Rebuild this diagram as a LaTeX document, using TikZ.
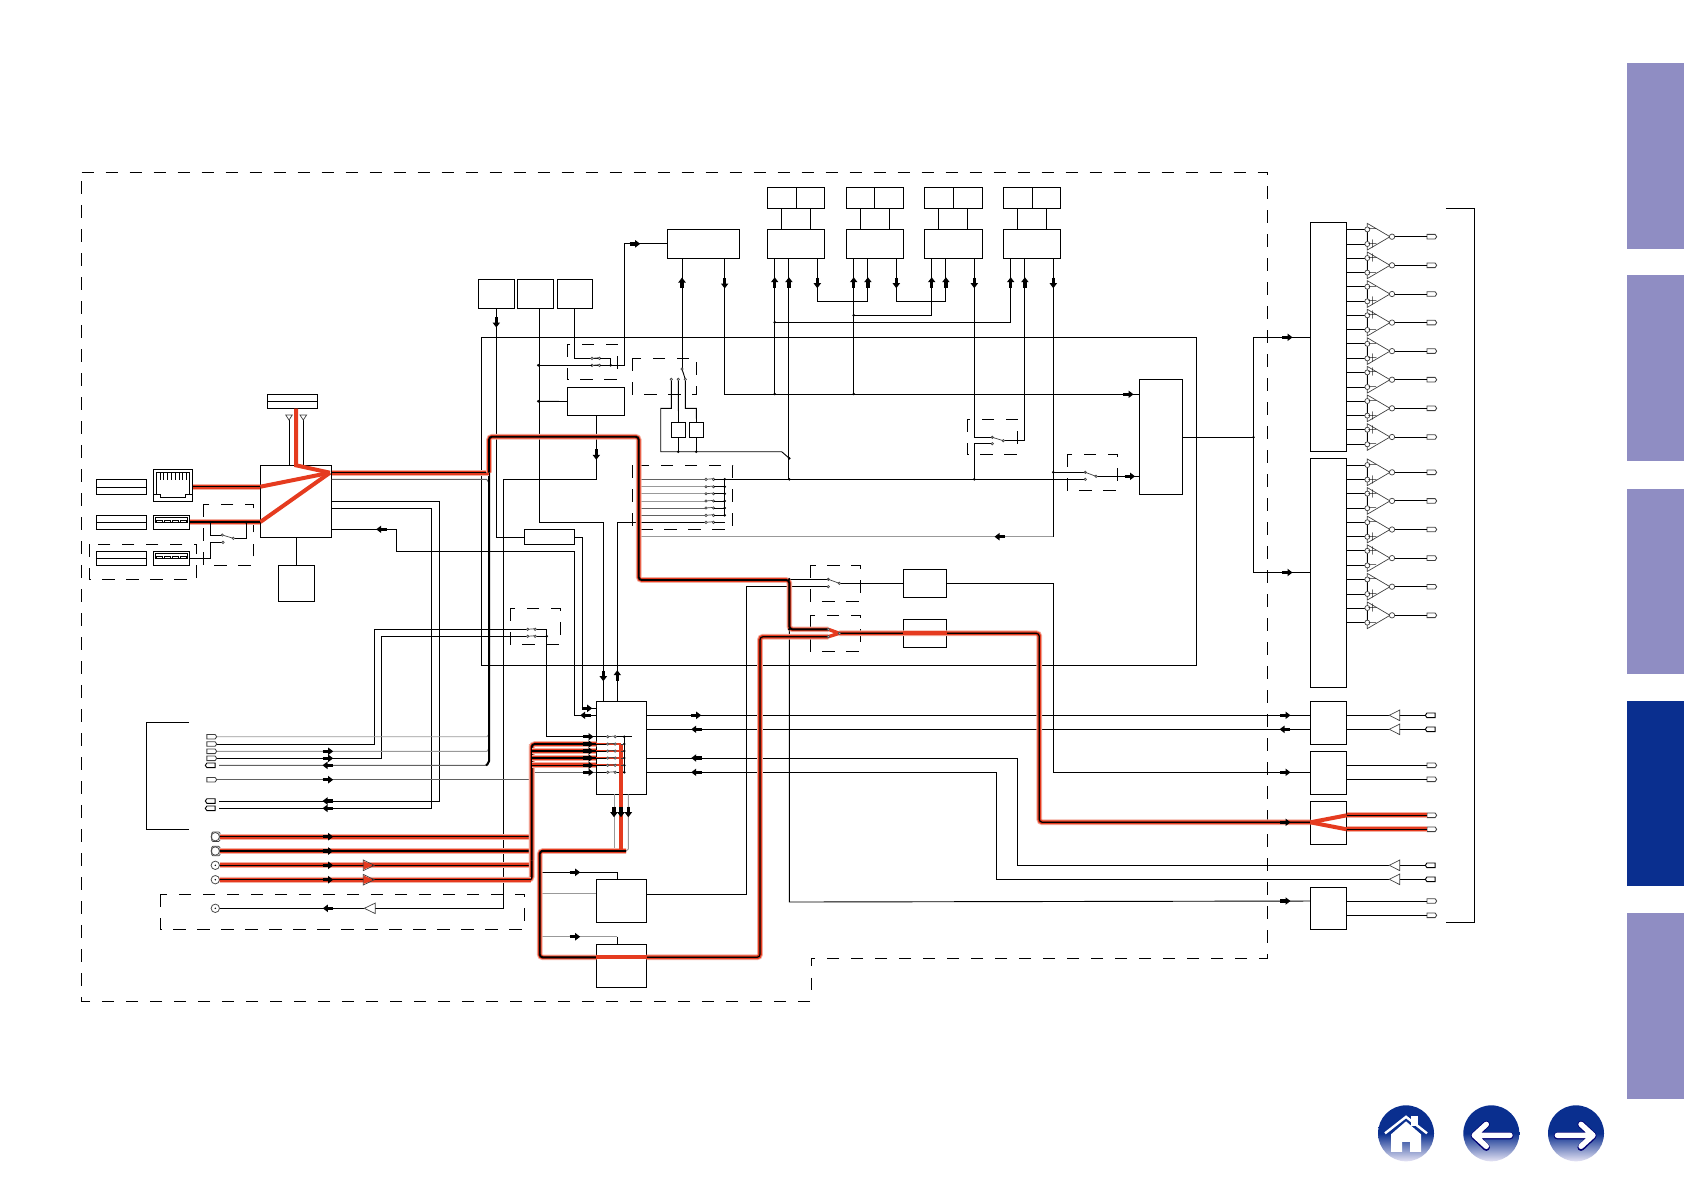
\documentclass[tikz,border=0pt]{standalone}
\usepackage{amsmath,amssymb}
\usetikzlibrary{
  arrows.meta,
  calc,
  fit,
  shapes.symbols
}
\definecolor{hotred}{HTML}{E53B1F}
\definecolor{hothalo}{HTML}{F3AFA2}
\definecolor{tablight}{HTML}{8F8DC3}
\definecolor{navblue}{HTML}{0A2F8F}
\definecolor{navpale}{HTML}{DCDCF0}
\pgfdeclareverticalshading{navfade}{100bp}{color(0bp)=(navpale); color(26bp)=(navpale); color(50bp)=(navblue); color(100bp)=(navblue)}
\tikzset{
  blk/.style={draw,inner sep=0pt,outer sep=0pt,line width=.46pt},
  wire/.style={line width=.46pt},
  softwire/.style={line width=.46pt,color=black!62},
  palewire/.style={line width=.46pt,color=black!40},
  dashbox/.style={line width=.46pt,dash pattern=on 6.3pt off 5.7pt},
  hotline/.style={line width=.6pt,rounded corners=1.5pt,preaction={draw,hotred,line width=1.9pt,preaction={draw,hothalo,line width=2.9pt}}},
  hotbus/.style={line width=.95pt,rounded corners=1.5pt,preaction={draw,hotred,line width=1.8pt,preaction={draw,hothalo,line width=2.8pt}}},
  hotfill/.style={line width=2pt,color=hotred},
  blackbus/.style={line width=1pt,rounded corners=1pt},
  flowtip/.style={line width=1.75pt,-{Triangle[length=2.5pt,width=3.6pt]}},
  gate/.style={line width=.35pt,color=black!75},
  ring/.style={line width=.35pt,fill=white},
  portr/.style={draw=black!75,line width=.42pt,inner sep=0pt,outer sep=0pt,signal,signal to=east,signal pointer angle=110,minimum width=4.9pt,minimum height=2.3pt},
  portl/.style={draw=black,line width=.45pt,inner sep=0pt,outer sep=0pt,signal,signal to=west,signal pointer angle=110,minimum width=4.9pt,minimum height=2.3pt},
  jack/.style={draw=black!70,circle,line width=.4pt,inner sep=0pt,outer sep=0pt,minimum size=4.2pt},
  sign/.style={inner sep=0pt,font=\fontsize{4}{4}\selectfont}
}
\newcommand{\flowR}[2]{\draw[flowtip] (#1-5,#2) -- (#1+5.5,#2);}
\newcommand{\flowL}[2]{\draw[flowtip] (#1+5,#2) -- (#1-5.5,#2);}
\newcommand{\flowU}[2]{\draw[flowtip] (#1,#2+5) -- (#1,#2-5.5);}
\newcommand{\flowD}[2]{\draw[flowtip] (#1,#2-5) -- (#1,#2+5.5);}
\newcommand{\jdot}[2]{\fill (#1,#2) circle (1.4);}
\newcommand{\term}[2]{\draw[ring,draw=black!70] (#1,#2) circle (1.2);}
\newcommand{\swrow}[2]{\draw[gate] (#1,#2) -- (#1+7,#2-.6); \term{#1}{#2} \term{#1+7.5}{#2}}
\newcommand{\ampR}[2]{\draw[gate] (#1,#2-5.3) -- (#1+11,#2) -- (#1,#2+5.3) -- cycle;}
\newcommand{\ampL}[2]{\draw[gate] (#1+11,#2-5.3) -- (#1,#2) -- (#1+11,#2+5.3) -- cycle;}
\newcommand{\usbpins}[1]{
  \draw[wire] (155.3,#1+2) rectangle (187.7,#1+7.5);
  \foreach \k in {0,1,2,3} \draw[wire,line width=.4pt] (156.5+8*\k,#1+5) rectangle (162.5+8*\k,#1+7.5);
}
\begin{document}
\begin{tikzpicture}[x=0.5pt,y=-0.5pt]
  \useasboundingbox (0,0) rectangle (1684,1191);

  \foreach \ya/\yb/\col in {63/249/tablight,275/461/tablight,489/674/tablight,701/886/navblue,913/1099/tablight}
    \fill[\col] (1627,\ya) rectangle (1684,\yb);

  \draw[dashbox] (81.5,172.3) -- (1267.5,172.3) -- (1267.5,958) -- (811,958) -- (811,1001) -- (81.5,1001) -- cycle;
  \draw[dashbox] (160.3,894.3) rectangle (524.7,929.3);
  \draw[dashbox] (203.3,504.3) rectangle (253.3,565.3);
  \draw[dashbox] (89,544.3) rectangle (196.7,579.3);
  \draw[dashbox] (567.3,344.3) rectangle (617.7,379.3);
  \draw[dashbox] (632.3,358.3) rectangle (696.7,394.3);
  \draw[dashbox] (632.3,465.3) rectangle (732.7,529.3);
  \draw[dashbox] (510.3,608.3) rectangle (560.7,644.3);
  \draw[dashbox] (810.3,565.3) rectangle (860.7,601.7);
  \draw[dashbox] (810.3,615.3) rectangle (860.7,651.3);
  \draw[dashbox] (967.3,419.3) rectangle (1017.7,454.3);
  \draw[dashbox] (1067.3,454.3) rectangle (1117.7,490.3);

  \node[blk,fit={(481.3,337.3) (1196.5,665.3)}] (frame) {};
  \node[blk,fit={(267.3,394.3) (317.7,408.7)}] (strT) {};
  \node[blk,fit={(96.3,479.3) (146.7,494.7)}] (strA) {};
  \node[blk,fit={(96.3,515.3) (146.7,529.7)}] (strB) {};
  \node[blk,fit={(96.3,551.3) (146.7,565.7)}] (strC) {};
  \draw[wire] (strT.west) -- (strT.east);
  \draw[wire] (strA.west) -- (strA.east);
  \draw[wire] (strB.west) -- (strB.east);
  \draw[wire] (strC.west) -- (strC.east);
  \node[blk,fit={(153.3,469.3) (192.7,501.3)}] (rj) {};
  \node[blk,fit={(153.3,515.3) (189.7,529.7)}] (usbA) {};
  \node[blk,fit={(153.3,551.3) (189.7,565.7)}] (usbB) {};
  \node[blk,fit={(260.3,465.3) (331.7,537.3)}] (net) {};
  \node[blk,fit={(278.3,565.3) (314.7,601.3)}] (mem) {};
  \node[blk,fit={(478.3,279.3) (514.3,308.3)}] (tunA) {};
  \node[blk,fit={(517.3,279.3) (553.3,308.3)}] (tunB) {};
  \node[blk,fit={(557.3,279.3) (592.3,308.3)}] (tunC) {};
  \node[blk,fit={(567.3,387.3) (624.3,415.7)}] (dec) {};
  \node[blk,fit={(524.3,529.3) (574.7,544.7)}] (ctl) {};
  \node[blk,fit={(667,229.3) (739,258.3)}] (dsp) {};
  \node[blk,fit={(671.3,422.3) (685.7,437.3)}] (regA) {};
  \node[blk,fit={(689.3,422.3) (703.7,437.3)}] (regB) {};
  \node[blk,fit={(1139.3,379.3) (1182.3,494.3)}] (adc) {};
  \node[blk,fit={(903.3,569.3) (946.7,597.7)}] (rcvA) {};
  \node[blk,fit={(903.3,619.3) (946.7,647.7)}] (rcvB) {};
  \node[blk,fit={(596.3,701.3) (646.7,794.3)}] (cpu) {};
  \node[blk,fit={(596.3,879.3) (646.7,922.3)}] (subA) {};
  \node[blk,fit={(596.3,944.3) (646.7,987.3)}] (subB) {};
  \node[blk,fit={(1310.3,222.3) (1346.7,451.3)}] (dacA) {};
  \node[blk,fit={(1310.3,458.3) (1346.7,687.4)}] (dacB) {};
  \node[blk,fit={(1310.3,701.3) (1346.7,744.3)}] (outC) {};
  \node[blk,fit={(1310.3,751.3) (1346.7,794.3)}] (outD) {};
  \node[blk,fit={(1310.3,801.3) (1346.7,844.3)}] (outE) {};
  \node[blk,fit={(1310.3,887.3) (1346.7,929.3)}] (outF) {};
  \node[jack] (jk1) at (215.3,836.7) {};
  \node[jack] (jk2) at (215.3,851) {};
  \node[jack] (jk3) at (215.3,865.3) {};
  \node[jack] (jk4) at (215.3,879.7) {};
  \node[jack] (jk0) at (215.3,908.3) {};
  \draw[gate,rounded corners=.6pt] (211.7,832) rectangle (220,841.4);
  \draw[gate,rounded corners=.6pt] (211.7,846.3) rectangle (220,855.7);
  \foreach \n in {0,3,4} \fill (jk\n) circle (.8);

  \foreach \n/\xa/\xb/\xc in {A/767.3/796.3/824.7,B/846.3/874.7/903.7,C/924.3/953.3/982.3,D/1003.3/1032.3/1060.7} {
    \node[blk,fit={(\xa,187.3) (\xb,208.3)}] (txL\n) {};
    \node[blk,fit={(\xb,187.3) (\xc,208.3)}] (txR\n) {};
    \node[blk,fit={(\xa,229.3) (\xc,258.3)}] (rx\n) {};
    \draw[wire] (txL\n.south) -- (txL\n.south |- rx\n.north);
    \draw[wire] (txR\n.south) -- (txR\n.south |- rx\n.north);
    \coordinate (r\n a) at (\xa+7.4,258.3);
    \coordinate (r\n b) at (\xa+21.6,258.3);
    \coordinate (r\n c) at (\xa+50,258.3);
    \flowU{\xa+7.4}{282.7}
    \flowU{\xa+21.6}{282.7}
    \flowD{\xa+50}{282.7}
  }

  \draw[wire] (rAc) |- (rBb |- 0,301.3) -- (rBb);
  \draw[wire] (rBc) |- (rCb |- 0,301.3) -- (rCb);
  \draw[wire] (rDa) |- (rAa |- 0,322.3);
  \draw[wire] (rCa) |- (rBa |- 0,315.3);
  \draw[wire] (rAa) -- (rAa |- 0,394);
  \draw[wire] (rBa) -- (rBa |- 0,394);
  \draw[wire] (rAb) -- (rAb |- 0,479.3);
  \draw[wire] (dsp.south -| 724.7,0) |- (adc.west |- 0,394.3);
  \draw[wire] (dsp.west |- 0,243.8) -- (624.3,243.8) -- (624.3,365.3) -- (538.3,365.3);
  \draw[wire] (682,258.3) -- (682,369);
  \draw[wire] (682,369) -- (685.3,379.3);
  \draw[wire] (671.3,379.3) -- (671.3,408.3) -- (660.7,408.3) -- (660.7,451.7) -- (781.7,451.7) -- (789.3,458.3);
  \draw[wire] (regA.north) -- (678.3,379.3);
  \draw[wire] (685.3,379.3) -- (685.3,408.3) -- (696.3,408.3) -- (regB.north);
  \draw[wire] (regA.south) -- (regA.south |- 0,451.7);
  \draw[wire] (regB.south) -- (regB.south |- 0,451.7);
  \draw[wire] (724.7,479.3) -- (1085.3,479.3);
  \draw[wire] (rCc) -- (974.3,437.3) -- (992.3,437.3);
  \draw[wire] (974.3,479.3) -- (974.3,443.7) -- (992.3,443.7);
  \draw[wire] (1003.3,440.7) -- (rDb |- 0,440.7) -- (rDb);
  \draw[wire] (rDc) -- (rDc |- 0,536.7);
  \draw[palewire] (rDc |- 0,536.7) -- (640.7,536.7);
  \draw[wire] (rDc |- 0,472.3) -- (1085.3,472.3);
  \draw[wire] (1096,476.3) -- (adc.west |- 0,476.3);
  \draw[wire] (adc.east |- 0,437.3) -- (1253.5,437.3);
  \draw[wire] (1253.5,337.3) -- (1253.5,572.5);
  \draw[wire] (1253.5,337.3) -- (dacA.west |- 0,337.3);
  \draw[wire] (1253.5,572.5) -- (dacB.west |- 0,572.5);

  \draw[wire] (tunA.south -| 496.3,0) -- (496.3,537) -- (ctl.west);
  \draw[wire] (tunB.south -| 539.3,0) -- (539.3,522.3) -- (603.3,522.3) -- (cpu.north -| 603.3,0);
  \draw[wire] (tunC.south -| 574.7,0) -- (574.7,358.3) -- (610.7,358.3) -- (610.7,365.3);
  \draw[wire] (dec.west) -- (538.3,401.3);
  \draw[wire] (dec.south -| 596.3,0) -- (596.3,479.3) -- (503.3,479.3) -- (503.3,908.3) -- (375,908.3);
  \draw[wire] (364.3,908.3) -- (jk0);
  \draw[wire] (ctl.east) -- (582.5,537) -- (582.5,708.3) -- (cpu.west |- 0,708.3);
  \draw[wire] (net.east |- 0,529.3) -- (396.3,529.3) -- (396.3,551.7) -- (574.7,551.7) -- (574.7,715.3) -- (cpu.west |- 0,715.3);
  \draw[wire] (net.east |- 0,501.3) -- (439.3,501.3) -- (439.3,801) -- (219,801);
  \draw[wire] (net.east |- 0,508.3) -- (431.7,508.3) -- (431.7,808.3) -- (219,808.3);
  \draw[softwire] (net.east |- 0,479.3) -- (486.7,479.3) -- (489,483);
  \draw[wire] (net.south -| 296.7,0) -- (mem.north -| 296.7,0);
  \draw[wire] (289.7,420) -- (net.north -| 289.7,0);
  \draw[wire] (303,420) -- (net.north -| 303,0);
  \draw[gate] (285.7,415) -- (292.3,415) -- (289,420) -- cycle (300,415) -- (306.6,415) -- (303.3,420) -- cycle;

  \draw[wire] (216,744) -- (374.3,744) -- (374.3,629.3) -- (527.7,629.3);
  \draw[wire] (216,758.3) -- (381.3,758.3) -- (381.3,636.3) -- (527.7,636.3);
  \draw[wire] (535.2,629.3) -- (546.7,629.3) -- (546.7,736.7) -- (607.3,736.7);
  \draw[wire] (535.2,636.3) -- (546.7,636.3);
  \draw[palewire] (216,736.7) -- (487,736.7) -- (489,734);
  \draw[palewire] (216,751.3) -- (487,751.3) -- (489,748);
  \draw[softwire] (219,765.3) -- (487,765.3) -- (489,762);
  \draw[softwire] (216,779.7) -- (531.7,779.7);
  \draw[blackbus] (489,472.7) -- (489,763) -- (486,765.3);
  \draw[softwire] (533,772.3) -- (607.3,772.3);

  \draw[softwire] (640.7,479.3) -- (706,479.3);
  \draw[palewire] (640.7,486.7) -- (706,486.7);
  \draw[palewire] (640.7,493.7) -- (706,493.7);
  \draw[palewire] (640.7,501) -- (706,501);
  \draw[softwire] (640.7,508) -- (706,508);
  \draw[softwire] (640.7,515.3) -- (706,515.3);
  \draw[wire] (617.3,522.3) -- (706,522.3);
  \draw[wire] (cpu.north -| 617.3,0) -- (617.3,522.3);
  \foreach \yy in {479.3,486.7,493.7,501,508,515.3} {
    \swrow{706}{\yy}
    \draw[wire] (713.5,\yy) -- (724.7,\yy);
    \jdot{724.7}{\yy}
  }
  \swrow{706}{522.3}
  \draw[wire] (713.5,522.3) -- (724.7,522.3);
  \draw[wire] (724.7,479.3) -- (724.7,515.3);

  \draw[wire] (789.3,579.3) -- (828.3,579.3);
  \draw[wire] (789.3,579.3) -- (789.3,902) -- (outF.west |- 0,901);
  \draw[wire] (subA.east |- 0,894.3) -- (746.3,894.3) -- (746.3,586.7) -- (828.3,586.7);
  \draw[wire] (839.3,583.3) -- (rcvA.west |- 0,583.3);
  \draw[wire] (rcvA.east |- 0,583.3) -- (1053.3,583.3) -- (1053.3,772.3) -- (outD.west |- 0,772.3);
  \draw[wire] (cpu.east |- 0,715.3) -- (outC.west |- 0,715.3);
  \draw[wire] (cpu.east |- 0,729.3) -- (outC.west |- 0,729.3);
  \draw[wire] (cpu.east |- 0,758) -- (1017,758) -- (1017,865.3) -- (1389.3,865.3);
  \draw[wire] (cpu.east |- 0,772.3) -- (996,772.3) -- (996,879.3) -- (1389.3,879.3);

  \foreach \yy in {736.7,744,751,758,765.3,772.3} {
    \draw[wire] (615.2,\yy) -- (624.3,\yy);
    \jdot{624.3}{\yy}
  }
  \draw[wire] (624.3,736.7) -- (631.7,736.7);
  \draw[wire] (624.3,736.7) -- (624.3,772.3);

  \draw[palewire] (cpu.south -| 614,0) -- (614,851);
  \draw[palewire] (cpu.south -| 628.3,0) -- (628.3,849) -- (626,851);
  \draw[wire] (539.7,872.3) -- (617.3,872.3) -- (subA.north -| 617.3,0);
  \draw[palewire] (539.7,893.7) -- (subA.west |- 0,893.7);
  \draw[palewire] (539.7,936.7) -- (617.3,936.7);
  \draw[wire] (617.3,936.7) -- (subB.north -| 617.3,0);

  \foreach \n/\yy/\st in {a/736.7/portr,b/744/portr,c/751.3/portr,d/758.3/portr,e/765.3/portl,f/779.7/portr,g/801/portl,h/808.3/portl}
    \node[\st] (pL\n) at (211,\yy) {};

  \draw[hotline] (jk1) -- (531.7,836.7);
  \draw[hotline] (jk2) -- (531.7,851);
  \draw[hotline] (jk3) -- (531.7,865.3);
  \draw[hotbus] (531.7,744) -- (531.7,879.7) -- (jk4);
  \draw[hotline] (jk4) -- (531,879.7);
  \draw[hotbus] (cpu.west |- 0,744) -- (531.7,744) -- (531.7,860);
  \draw[hotline] (531.7,751) -- (cpu.west |- 0,751);
  \draw[hotline] (531.7,758) -- (cpu.west |- 0,758);
  \draw[hotline] (531.7,765.3) -- (cpu.west |- 0,765.3);
  \foreach \yy in {744,751,758,765.3}
    \draw[line width=1pt,hotred] (596.3,\yy) -- (621,\yy);
  \foreach \yy in {736.7,744,751,758,765.3,772.3} {
    \draw[wire,line width=.35pt] (596.3,\yy) -- (607.3,\yy);
    \swrow{607.7}{\yy}
  }
  \ampR{363.3}{865.3}
  \ampR{363.3}{879.7}
  \ampL{364.3}{908.3}
  \fill[hotred] (363.6,861) -- (372.5,865.3) -- (363.6,869.6) -- cycle (363.6,875.4) -- (372.5,879.7) -- (363.6,884) -- cycle;

  \draw[hotfill] (strT.south -| 296,0) -- (296,465.3) -- (330,472.7);
  \draw[hotfill] (260.3,486.7) -- (330,472.7);
  \draw[hotfill] (260.3,522) -- (330,472.7);
  \draw[hotline] (rj.east |- 0,486.7) -- (net.west |- 0,486.7);
  \draw[hotline] (usbA.east |- 0,522) -- (net.west |- 0,522);
  \draw[hotline] (net.east |- 0,472.7) -- (489,472.7);
  \jdot{210.3}{522.3}
  \jdot{246}{522.3}
  \draw[wire] (210.3,522.3) -- (210.3,535) -- (222.3,535);
  \draw[wire] (246,522.3) -- (246,538.3) -- (233.3,538.3);
  \draw[wire] (223,542.3) -- (210.3,542.3) -- (210.3,558.3) -- (usbB.east |- 0,558.3);
  \draw[gate] (222.3,535) -- (233.3,538.3);
  \term{222.3}{535}
  \term{233.3}{538.3}
  \term{223}{542.3}

  \draw[hotbus] (489,472.7) -- (489,436.7) -- (638.7,436.7) -- (638.7,580) -- (789.3,580) -- (789.3,629.3) -- (828.3,629.3);
  \draw[hotfill,line width=1.7pt] (828.3,629.3) -- (839.3,633.3) -- (828.3,636.7);
  \draw[hotline] (839.3,633.3) -- (1039.3,633.3) -- (1039.3,822.3) -- (outE.west |- 0,822.3);
  \draw[hotline] (subB.east |- 0,957.3) -- (760,957.3) -- (760,636.7) -- (828.3,636.7);
  \draw[hotbus] (subB.west |- 0,957.3) -- (539.7,957.3) -- (539.7,851) -- (626,851);
  \draw[hotfill] (subB.west |- 0,957.3) -- (subB.east |- 0,957.3);
  \draw[hotfill] (rcvB.west |- 0,633.3) -- (rcvB.east |- 0,633.3);
  \draw[hotfill,line width=1.7pt] (621,744) -- (621,851);
  \foreach \yy in {744,751,758,765.3} {\draw[gate] (621,\yy) -- (624.3,\yy);}
  \draw[wire] (624.3,736.7) -- (624.3,772.3);
  \draw[blackbus] (541,851) -- (626,851);

  \draw[hotfill] (outE.west |- 0,822.3) -- (outE.east |- 0,815.3);
  \draw[hotfill] (outE.west |- 0,822.3) -- (outE.east |- 0,829.3);
  \node[portr] (outEa) at (1431,815.3) {};
  \node[portr] (outEb) at (1431,829.3) {};
  \draw[hotline] (outE.east |- 0,815.3) -- (outEa.west);
  \draw[hotline] (outE.east |- 0,829.3) -- (outEb.west);

  \draw[wire] (1445.9,208.3) -- (1474.3,208.3) -- (1474.3,922) -- (1445.9,922);
  \draw[wire] (189,722.3) -- (146.3,722.3) -- (146.3,829.3) -- (189,829.3);

  \foreach \n/\yy/\st/\sb/\bx in {a/236.7/-/+/dacA,b/265.3/+/-/dacA,c/294/-/+/dacA,d/322.6/+/-/dacA,e/351.1/-/+/dacA,f/379.7/+/-/dacA,g/408.3/-/+/dacA,h/437/+/-/dacA,i/472.3/-/+/dacB,j/500.9/+/-/dacB,k/529.5/-/+/dacB,l/558.1/+/-/dacB,m/586.7/-/+/dacB,n/615.3/+/-/dacB} {
    \draw[wire] (\bx.east |- 0,\yy-7.3) -- (1367.3,\yy-7.3);
    \draw[wire] (\bx.east |- 0,\yy+7.3) -- (1367.3,\yy+7.3);
    \draw[gate] (1367.3,\yy-13.3) -- (1390,\yy) -- (1367.3,\yy+13.3) -- cycle;
    \draw[wire] (1367.3,\yy-7.3) -- (1367.3,\yy+7.3);
    \draw[ring,draw=black!75] (1367.3,\yy-7.3) circle (2.5);
    \draw[ring,draw=black!75] (1367.3,\yy+7.3) circle (2.5);
    \draw[ring,draw=black!75] (1392,\yy) circle (2.7);
    \node[sign] (sgT\n) at (1372.5,\yy-7.3) {$\st$};
    \node[sign] (sgB\n) at (1372.5,\yy+7.3) {$\sb$};
    \node[portr] (oa\n) at (1431,\yy) {};
    \draw[wire] (1394.7,\yy) -- (oa\n.west);
  }
  \node[portl] (outCa) at (1431,715.3) {};
  \node[portl] (outCb) at (1431,729.3) {};
  \node[portr] (outDa) at (1431,765.3) {};
  \node[portr] (outDb) at (1431,779.3) {};
  \node[portl] (inPa) at (1431,865.3) {};
  \node[portl] (inPb) at (1431,879.3) {};
  \node[portr] (outFa) at (1431,901) {};
  \node[portr] (outFb) at (1431,915.3) {};
  \draw[wire] (outC.east |- 0,715.3) -- (outCa.west);
  \draw[wire] (outC.east |- 0,729.3) -- (outCb.west);
  \draw[wire] (outD.east |- 0,765.3) -- (outDa.west);
  \draw[wire] (outD.east |- 0,779.3) -- (outDb.west);
  \draw[wire] (outF.east |- 0,901) -- (outFa.west);
  \draw[wire] (outF.east |- 0,915.3) -- (outFb.west);
  \draw[wire] (1399.7,865.3) -- (inPa.west);
  \draw[wire] (1399.7,879.3) -- (inPb.west);
  \draw[gate,fill=white] (1389.3,715.3) -- (1399.7,710) -- (1399.7,720.6) -- cycle;
  \draw[gate,fill=white] (1389.3,729.3) -- (1399.7,724) -- (1399.7,734.6) -- cycle;
  \draw[gate,fill=white] (1389.3,865.3) -- (1399.7,860) -- (1399.7,870.6) -- cycle;
  \draw[gate,fill=white] (1389.3,879.3) -- (1399.7,874) -- (1399.7,884.6) -- cycle;

  \draw[wire] (156.3,472.7) -- (189.7,472.7) -- (189.7,494) -- (185,494) -- (185,497.3) -- (160.7,497.3) -- (160.7,494) -- (156.3,494) -- cycle;
  \draw[wire] (153.3,494.7) -- (156.3,494.7) (189.7,494.7) -- (192.7,494.7);
  \foreach \k in {0,...,7} \draw[wire,line width=.4pt] (160+3.8*\k,472.7) -- (160+3.8*\k,480);
  \usbpins{515.3}
  \usbpins{551.3}

  \foreach \yy in {358.3,365.3} \swrow{592}{\yy}
  \draw[wire] (538.3,365.3) -- (592,365.3);
  \draw[wire] (599.5,358.3) -- (610.7,358.3);
  \draw[wire] (599.5,365.3) -- (610.7,365.3);
  \jdot{610.7}{365.3}
  \jdot{538.3}{365.3}
  \jdot{538.3}{401.3}
  \swrow{527.7}{629.3}
  \swrow{527.7}{636.3}
  \jdot{546.7}{636.3}
  \term{682}{369}
  \term{671.3}{379.3}
  \term{678.3}{379.3}
  \term{685.3}{379.3}
  \jdot{678.3}{451.7}
  \jdot{696.3}{451.7}
  \jdot{789.3}{458.3}
  \jdot{789.3}{479.3}
  \jdot{774.7}{322.3}
  \jdot{774.7}{394}
  \jdot{853.7}{315.3}
  \jdot{853.7}{394}
  \jdot{974.3}{479.3}
  \jdot{1053.3}{472.3}
  \jdot{1253.5}{437.3}
  \jdot{789.3}{579.3}
  \jdot{789.3}{629.3}
  \term{828.3}{579.3}
  \term{828.3}{586.7}
  \term{839.3}{583.3}
  \draw[gate] (828.3,579.3) -- (839.3,583.3);
  \term{828.3}{629.3}
  \term{828.3}{636.7}
  \term{839.3}{633.3}
  \term{992.3}{437.3}
  \term{992.3}{443.7}
  \term{1003.3}{440.7}
  \draw[gate] (992.3,437.3) -- (1003.3,440.7);
  \term{1085.3}{472.3}
  \term{1085.3}{479.3}
  \term{1096}{476.3}
  \draw[gate] (1085.3,472.3) -- (1096,476.3);

  \flowR{327.7}{751.3}
  \flowR{327.7}{758.3}
  \flowL{328}{765.3}
  \flowR{327.7}{779.7}
  \flowL{328}{801}
  \flowL{328}{808.3}
  \flowR{327.7}{836.7}
  \flowR{327.7}{851}
  \flowR{327.7}{865.3}
  \flowR{327.7}{879.7}
  \flowL{328.3}{908.3}
  \flowL{381.7}{529.3}
  \flowD{496.3}{322}
  \flowD{596.3}{454.3}
  \flowR{634.7}{243.8}
  \flowU{682}{283}
  \flowD{724.7}{283}
  \flowR{1128}{394.3}
  \flowR{1129.5}{476.3}
  \flowL{1000}{536.7}
  \flowR{1287}{337.3}
  \flowR{1287}{572.5}
  \flowR{1285}{715.3}
  \flowL{1285}{729.3}
  \flowR{1285}{772.3}
  \flowR{1285}{822.3}
  \flowR{1285}{901}
  \flowR{586.7}{708.3}
  \flowL{585.7}{715.3}
  \flowD{603.3}{675.7}
  \flowU{617.3}{675.7}
  \foreach \yy in {736.7,744,751,758,765.3,772.3} {\flowR{588}{\yy}}
  \flowR{695.7}{715.3}
  \flowL{696.7}{729.3}
  \flowL{696.7}{758}
  \flowL{696.7}{772.3}
  \flowD{614}{811.7}
  \flowD{621}{811.7}
  \flowD{628.3}{811.7}
  \flowR{574.7}{872.3}
  \flowR{574.7}{936.7}

  \shade[shading=navfade] (1406,1133.3) circle (28);
  \shade[shading=navfade] (1491.3,1133.3) circle (28);
  \shade[shading=navfade] (1576,1133.3) circle (28);
  \begin{scope}[shift={(1406,1133.3)}]
    \fill[white] (5,-17) rectangle (12,-7);
    \draw[white,line width=1.2pt] (-21,0) -- (0,-16.5) -- (21,0);
    \fill[white] (-15,1) -- (0,-12) -- (15,1) -- (15,18.5) -- (4,18.5) -- (4,8.5) -- (-4,8.5) -- (-4,18.5) -- (-15,18.5) -- cycle;
  \end{scope}
  \begin{scope}[shift={(1491.3,1133.3)}]
    \draw[color=blue!45!black,line width=3.6pt,line cap=round,line join=round] (18.7,2.5) -- (-17,2.5) (-5,-9) -- (-17,2.5) -- (-5,14);
    \draw[white,line width=2.7pt,line cap=round,line join=round] (18.7,2) -- (-17,2) (-5,-9) -- (-17,2) -- (-5,13);
  \end{scope}
  \begin{scope}[shift={(1576,1133.3)}]
    \draw[color=blue!45!black,line width=3.6pt,line cap=round,line join=round] (-18.7,2.5) -- (17,2.5) (5,-9) -- (17,2.5) -- (5,14);
    \draw[white,line width=2.7pt,line cap=round,line join=round] (-18.7,2) -- (17,2) (5,-9) -- (17,2) -- (5,13);
  \end{scope}
\end{tikzpicture}
\end{document}
